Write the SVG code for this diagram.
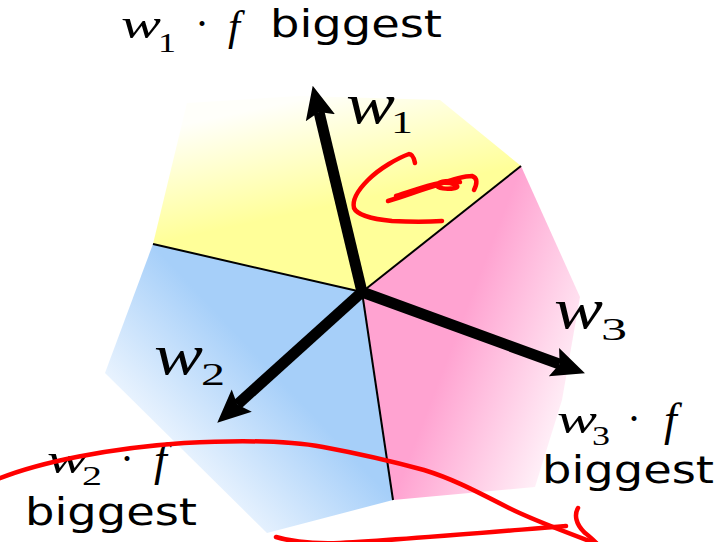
<svg xmlns="http://www.w3.org/2000/svg" width="718" height="542" viewBox="0 0 718 542">
  <style>
    .sans { font-family: "DejaVu Sans", "Liberation Sans", sans-serif; fill: #000; }
    .mi { font-family: "Liberation Serif", "DejaVu Serif", serif; font-style: italic; fill: #000; }
    .mr { font-family: "Liberation Serif", "DejaVu Serif", serif; fill: #000; }
    .edge { stroke: #000; stroke-width: 2; fill: none; }
    .vec { stroke: #000; stroke-width: 11; fill: none; marker-end: url(#head); }
    .ink { stroke: #ff0000; stroke-width: 4.5; fill: none; stroke-linecap: round; stroke-linejoin: round; }
  </style>
  <defs>
    <marker id="head" markerUnits="userSpaceOnUse" markerWidth="40" markerHeight="36" refX="6" refY="16" orient="auto" viewBox="0 0 40 32">
      <path d="M0,1 L33,16 L0,31 L6,16 Z" fill="#000"/>
    </marker>
    <linearGradient id="gy" gradientUnits="userSpaceOnUse" x1="340" y1="204" x2="317" y2="96">
      <stop offset="0" stop-color="#ffff99"/>
      <stop offset="1" stop-color="#fffffa"/>
    </linearGradient>
    <linearGradient id="gb" gradientUnits="userSpaceOnUse" x1="273" y1="372" x2="165" y2="474">
      <stop offset="0" stop-color="#a6cff9"/>
      <stop offset="1" stop-color="#f6faff"/>
    </linearGradient>
    <linearGradient id="gp" gradientUnits="userSpaceOnUse" x1="457" y1="333" x2="582" y2="381">
      <stop offset="0" stop-color="#ffa3d1"/>
      <stop offset="1" stop-color="#fff3f9"/>
    </linearGradient>
  </defs>

  <g id="region-w1">
    <polygon points="362,292 153,244 187,103 300,96 440,100 521,166" fill="url(#gy)"/>
  </g>
  <g id="region-w2">
    <polygon points="362,292 153,244 105,373 267,533 393,500" fill="url(#gb)"/>
  </g>
  <g id="region-w3">
    <polygon points="362,292 393,500 535,487 562,400 580,297 521,166" fill="url(#gp)"/>
  </g>

  <g id="boundaries">
    <line class="edge" x1="362" y1="292" x2="153" y2="244"/>
    <line class="edge" x1="362" y1="292" x2="521" y2="166"/>
    <line class="edge" x1="362" y1="292" x2="393" y2="500"/>
  </g>

  <g id="connectors">
    <line class="vec" x1="362" y1="292" x2="319" y2="112"/>
    <line class="vec" x1="362" y1="292" x2="237.3" y2="404.6"/>
    <line class="vec" x1="362" y1="292" x2="559.6" y2="364.1"/>
  </g>

  <g id="label-w1">
    <text class="mi" x="346" y="123" font-size="56" textLength="49" lengthAdjust="spacingAndGlyphs">w</text>
    <text class="mr" x="391" y="133" font-size="31" textLength="22" lengthAdjust="spacingAndGlyphs">1</text>
  </g>
  <g id="label-w2">
    <text class="mi" x="154" y="374" font-size="56" textLength="49" lengthAdjust="spacingAndGlyphs">w</text>
    <text class="mr" x="201" y="385" font-size="31" textLength="24" lengthAdjust="spacingAndGlyphs">2</text>
  </g>
  <g id="label-w3">
    <text class="mi" x="554" y="328" font-size="56" textLength="49" lengthAdjust="spacingAndGlyphs">w</text>
    <text class="mr" x="601" y="340" font-size="31" textLength="26" lengthAdjust="spacingAndGlyphs">3</text>
  </g>

  <g id="text-top">
    <g transform="translate(122,38)">
      <text class="mi" x="-1" y="0" font-size="42" textLength="40" lengthAdjust="spacingAndGlyphs">w</text>
      <text class="mr" x="36" y="14" font-size="28" textLength="18" lengthAdjust="spacingAndGlyphs">1</text>
      <text class="mr" x="80" y="0" font-size="42" text-anchor="middle">·</text>
      <text class="mi" x="106" y="2" font-size="43">f</text>
    </g>
    <text class="sans" x="270" y="37" font-size="37" textLength="172" lengthAdjust="spacingAndGlyphs">biggest</text>
  </g>
  <g id="text-left">
    <g transform="translate(48,473)">
      <text class="mi" x="-1" y="0" font-size="42" textLength="40" lengthAdjust="spacingAndGlyphs">w</text>
      <text class="mr" x="34" y="12" font-size="28" textLength="20" lengthAdjust="spacingAndGlyphs">2</text>
      <text class="mr" x="79" y="0" font-size="42" text-anchor="middle">·</text>
      <text class="mi" x="106" y="2" font-size="46">f</text>
    </g>
    <text class="sans" x="25" y="525" font-size="37" textLength="172" lengthAdjust="spacingAndGlyphs">biggest</text>
  </g>
  <g id="text-right">
    <g transform="translate(558,433)">
      <text class="mi" x="-1" y="0" font-size="42" textLength="40" lengthAdjust="spacingAndGlyphs">w</text>
      <text class="mr" x="34" y="12" font-size="28" textLength="18" lengthAdjust="spacingAndGlyphs">3</text>
      <text class="mr" x="76" y="0" font-size="42" text-anchor="middle">·</text>
      <text class="mi" x="106" y="2" font-size="46">f</text>
    </g>
    <text class="sans" x="542" y="483" font-size="37" textLength="172" lengthAdjust="spacingAndGlyphs">biggest</text>
  </g>

  <g id="annotations">
    <path class="ink" d="M-2,479 C40,462 110,448 184,443 C240,440 290,441 323,447 C350,452 380,458 424,470 C450,478 470,488 507,507 C530,519 560,530 600,545"/>
    <path class="ink" d="M276,537 C292,542 310,544 340,543 C400,540 480,533 566,526"/>
    <path class="ink" d="M578,508 C574,515 576,524 584,532 C590,537 594,540 598,545"/>
    <path class="ink" d="M415,163 C414,158 412,154 409,154 C398,158 380,168 368,180 C358,190 352,200 354,208 C357,215 372,219 392,221 C410,222 428,222 442,221"/>
    <path class="ink" d="M388,201 C405,196 420,190 437,185 C448,181 462,176 472,176 C478,178 477,184 474,190"/>
    <path class="ink" d="M396,196 C410,192 424,186 440,183 C452,182 462,186 455,188 C446,190 438,188 436,185 C440,181 450,180 460,182"/>
  </g>
</svg>
